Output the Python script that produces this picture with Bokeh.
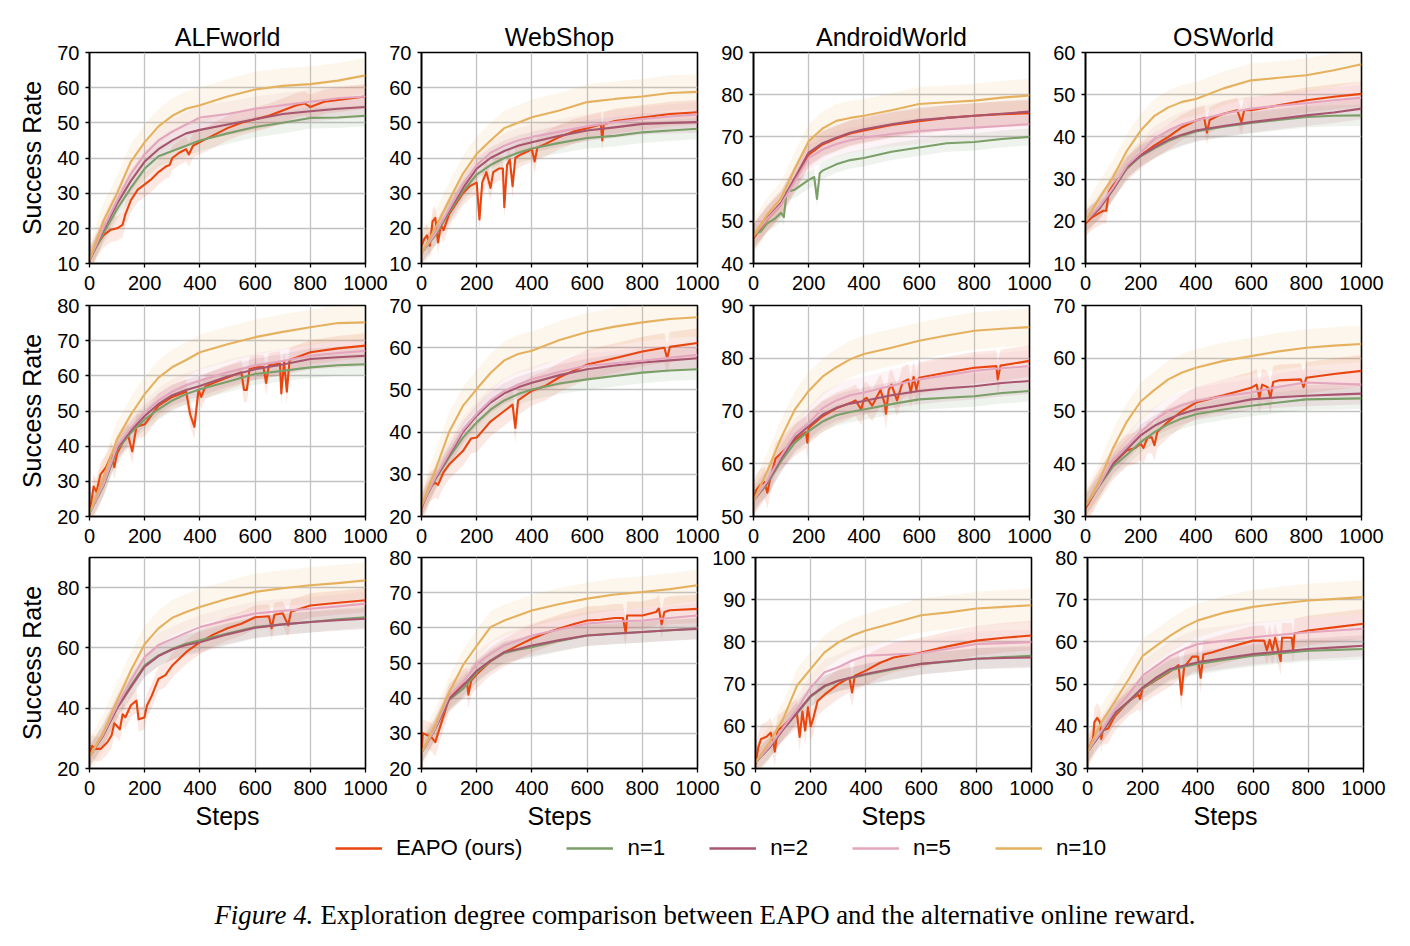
from bokeh.plotting import figure
from bokeh.layouts import column, row
from bokeh.models import Range1d, FixedTicker, Legend, LegendItem, Label
from bokeh.embed import file_html
from bokeh.resources import INLINE

# ---------------------------------------------------------------- labels
ENVS = ["ALFworld", "WebShop", "AndroidWorld", "OSWorld"]
SERIES = ["EAPO (ours)", "n=1", "n=2", "n=5", "n=10"]
COLORS = ["#E8450F", "#7B9F68", "#A8566F", "#E3A6BE", "#E5B15F"]
X_TICKS = [0, 200, 400, 600, 800, 1000]

# common step grid for the baseline curves
STEPS = [0, 50, 100, 150, 200, 250, 300, 350, 400, 500, 600, 700, 800, 900, 1000]

# ---------------------------------------------------------------- row 1
ALF_R1_EAPO_X = [0, 25, 50, 75, 100, 120, 130, 150, 175, 200, 225, 250, 275, 290, 300, 325, 350, 360, 375, 400,
                 450, 500, 550, 600, 650, 700, 750, 780, 800, 850, 900, 950, 1000]
ALF_R1_EAPO = [11, 15, 18, 19.5, 20, 21, 24, 28, 31, 32.5, 34, 36, 37.5, 38, 40, 41.5, 42.5, 41, 43.5, 44.5,
               46.5, 48.5, 50, 51, 52, 53.5, 55, 55.5, 54.5, 56, 56.5, 57, 57.5]
ALF_R1_N1 = [11, 18.5, 25.5, 31.5, 37, 40.5, 42, 43.5, 45, 47, 48.8, 50, 51.4, 51.5, 52]
ALF_R1_N2 = [11, 19.5, 27, 33.5, 39, 42.5, 45, 47, 48, 49.5, 51, 52.5, 53.3, 54, 54.5]
ALF_R1_N5 = [11, 20, 28, 35.5, 41, 45, 47.5, 49.5, 51.5, 52.5, 54, 55, 56, 57, 57.5]
ALF_R1_N10 = [11, 22, 30, 39, 44.5, 49, 52, 54, 55, 57.5, 59.5, 60.5, 61, 62, 63.5]
ALF_R1_BAND = [3.5, 3.0, 3.0, 3.5, 5.0]

WS_R1_EAPO_X = [0, 10, 20, 30, 40, 50, 60, 70, 80, 100, 125, 150, 175, 200, 210, 220, 235, 250, 260, 280,
                295, 300, 310, 320, 330, 340, 360, 400, 410, 420, 450, 500, 550, 600, 650, 655, 660, 700, 800,
                900, 1000]
WS_R1_EAPO = [15, 17, 18, 15, 22, 23, 16, 21, 19.5, 24, 27, 30, 32, 33, 22.5, 33, 36, 31.5, 36, 37,
              37, 26, 38, 39.5, 32, 40, 41, 42.5, 39, 43, 44, 46, 47.5, 48.5, 49.5, 45, 49.5, 50.5, 51.5,
              52.5, 53]
WS_R1_N1 = [13, 18, 24.5, 30.5, 35.3, 38, 40, 41.5, 42.7, 44.3, 45.7, 46.3, 47.3, 47.8, 48.3]
WS_R1_N2 = [13, 18.5, 25, 31.5, 37, 40, 42, 43.5, 44.5, 46.3, 47.8, 48.7, 49.7, 50, 50.2]
WS_R1_N5 = [13, 18.5, 25.5, 32.5, 38, 41.5, 43.5, 45, 46, 47.5, 49, 50.2, 51.1, 51.8, 52.4]
WS_R1_N10 = [13, 20, 28, 35.5, 41.2, 45, 48.5, 50, 51.6, 53.5, 55.9, 56.8, 57.5, 58.5, 58.8]
WS_R1_BAND = [3.5, 3.0, 3.0, 3.5, 5.0]

AW_R1_EAPO_X = STEPS
AW_R1_EAPO = [46, 50.5, 54, 60, 65.8, 68.2, 69.6, 70.8, 71.5, 72.8, 73.7, 74.5, 75, 75.4, 75.6]
AW_R1_N1_X = [0, 25, 50, 75, 100, 110, 120, 150, 200, 220, 230, 240, 250, 300, 350, 400, 500, 600, 700, 800,
              900, 1000]
AW_R1_N1 = [47, 47.5, 49.5, 50.5, 52, 51, 57, 57.5, 59.8, 60.5, 55.3, 61.4, 62, 63.5, 64.5, 65, 66.5, 67.5,
            68.5, 68.8, 69.5, 70]
AW_R1_N2 = [46.5, 50.8, 54.4, 60.3, 66.3, 68.5, 69.8, 71, 71.8, 73, 74, 74.5, 75, 75.5, 76]
AW_R1_N5 = [46.5, 50.6, 54, 59.5, 65, 67, 68.3, 69.2, 69.8, 70.7, 71.4, 71.8, 72.2, 72.6, 73]
AW_R1_N10 = [46.5, 51.6, 55.5, 62.5, 69, 72, 73.8, 74.5, 75, 76.3, 77.8, 78.2, 78.6, 79.3, 79.8]
AW_R1_BAND = [3.0, 2.0, 3.0, 3.0, 4.0]

OS_R1_EAPO_X = [0, 25, 50, 65, 75, 85, 100, 150, 200, 250, 300, 350, 400, 430, 440, 450, 480, 500, 550, 565,
                575, 600, 700, 800, 900, 1000]
OS_R1_EAPO = [19.5, 21, 22, 22.5, 22.5, 27, 28.5, 32.5, 35.6, 38, 40, 42.3, 43.9, 44.5, 41, 44, 45, 45.5, 46.3,
              43.5, 46.3, 46.3, 47.5, 48.7, 49.5, 50.2]
OS_R1_N1 = [20, 23, 27.5, 32.5, 35.4, 37.3, 39, 40.3, 41.3, 42.4, 43.3, 44, 44.7, 45, 45.1]
OS_R1_N2 = [20, 23, 27.6, 32.8, 35.6, 37.5, 39.3, 40.5, 41.5, 42.6, 43.5, 44.3, 45.1, 45.8, 46.7]
OS_R1_N5 = [20, 23.5, 28, 33.2, 36.3, 39.5, 41.5, 43, 43.9, 45.5, 46.7, 47.4, 48, 48.7, 49.3]
OS_R1_N10 = [20, 25.5, 30.5, 36.7, 41.5, 45, 47, 48.3, 49, 51.5, 53.4, 54, 54.6, 55.8, 57.2]
OS_R1_BAND = [3.0, 2.5, 2.5, 3.0, 4.0]

# ---------------------------------------------------------------- row 2
ALF_R2_EAPO_X = [0, 15, 25, 40, 60, 80, 90, 100, 120, 140, 155, 170, 200, 250, 300, 350, 365, 380, 395, 405,
                 420, 450, 500, 550, 560, 570, 580, 600, 630, 640, 650, 690, 695, 705, 715, 725, 800, 900, 1000]
ALF_R2_EAPO = [21, 28.5, 27, 32, 34, 37.5, 34, 38, 41, 43, 38.5, 45.5, 46.2, 51.5, 54, 55.5, 49, 45.5, 56, 54,
               57, 58, 59.5, 61, 56, 56, 62, 62.4, 62.5, 58, 63, 63.5, 55, 64, 55.5, 64.5, 66.7, 67.8, 68.6]
ALF_R2_N1 = [21, 28.5, 39, 43.8, 47.6, 50.5, 53, 54.8, 56.2, 58.3, 60.5, 61.4, 62.4, 63, 63.3]
ALF_R2_N2 = [21, 29, 39.5, 44.5, 48.6, 52, 54.5, 56, 57.1, 59.8, 61.9, 63.2, 64.8, 65.3, 65.7]
ALF_R2_N5 = [21, 29, 40, 45.2, 49.5, 53, 55.5, 57.3, 58.6, 61, 62.9, 64.2, 65.7, 66.5, 67.1]
ALF_R2_N10 = [21, 31, 42, 49, 54.8, 59.5, 62.5, 64.5, 66.7, 69, 71, 72.5, 73.8, 75, 75.2]
ALF_R2_BAND = [3.5, 3.0, 3.0, 3.5, 5.0]

WS_R2_EAPO_X = [0, 30, 50, 60, 80, 100, 150, 180, 200, 250, 300, 330, 340, 350, 400, 450, 500, 550, 600, 700,
                800, 880, 890, 900, 1000]
WS_R2_EAPO = [22, 27, 28, 27.5, 30.5, 32.3, 35.5, 38.5, 38.7, 42.5, 45, 46.5, 41, 47.5, 49.8, 51, 53, 54.5, 56,
              57.5, 59.1, 60, 57.5, 60.2, 61.1]
WS_R2_N1 = [22.5, 28.8, 34, 38.7, 42.3, 45.3, 47.5, 49, 50.1, 51.5, 52.5, 53.3, 54.1, 54.6, 54.9]
WS_R2_N2 = [22.5, 29, 34.5, 40, 43.9, 47, 49.2, 50.6, 51.7, 53.5, 54.9, 55.8, 56.5, 57, 57.5]
WS_R2_N5 = [22.5, 29.3, 35, 40.5, 44.3, 47.5, 49.7, 51.3, 52.5, 54.3, 55.7, 56.3, 56.9, 57.6, 58.3]
WS_R2_N10 = [22.5, 31, 40, 46.2, 50.2, 54, 57, 58.5, 59.3, 61.8, 63.7, 65, 66, 66.8, 67.2]
WS_R2_BAND = [3.5, 2.5, 2.5, 3.0, 4.5]

AW_R2_EAPO_X = [0, 10, 25, 40, 50, 60, 80, 100, 150, 190, 195, 200, 250, 300, 350, 370, 390, 400, 410, 430,
                450, 460, 475, 480, 490, 500, 520, 540, 560, 570, 580, 590, 600, 700, 800, 880, 885, 895, 1000]
AW_R2_EAPO = [53, 55, 56, 56.5, 54.5, 57, 61, 62, 64.5, 66, 64, 66.8, 69, 70.5, 71.5, 72, 70.3, 72.2, 72.5, 71,
              73, 74, 71.5, 69.5, 74, 75, 72, 75.4, 76, 73.5, 76.5, 74, 76.3, 77.3, 78.2, 78.5, 76, 78.6, 79.5]
AW_R2_N1 = [53, 56.2, 60.5, 64, 66.2, 68, 69.2, 69.8, 70.3, 71.3, 72.2, 72.5, 72.8, 73.4, 73.8]
AW_R2_N2 = [53, 56.5, 61, 64.9, 67.1, 69.3, 70.6, 71.4, 71.9, 73, 73.8, 74.3, 74.7, 75.3, 75.7]
AW_R2_N5 = [53, 56.8, 61.5, 65.6, 67.7, 70.5, 72, 73, 73.5, 74.8, 76, 76.8, 77.6, 78.1, 78.5]
AW_R2_N10 = [53, 58.6, 64.9, 70.3, 73.8, 76.5, 78.3, 79.8, 80.8, 82, 83.3, 84.3, 85.2, 85.6, 85.9]
AW_R2_BAND = [3.0, 2.0, 2.5, 3.0, 3.5]

OS_R2_EAPO_X = [0, 50, 100, 150, 180, 200, 210, 225, 240, 250, 260, 300, 350, 400, 450, 500, 600, 620, 630, 640,
                660, 670, 680, 700, 780, 790, 800, 900, 1000]
OS_R2_EAPO = [31.5, 36, 40, 42.5, 43, 43.8, 43, 45, 45, 43.5, 46, 48, 50, 51.6, 52.3, 53, 54.4, 55, 52.5, 55,
              54.5, 52.5, 55.5, 55.8, 56, 54.5, 56.3, 57, 57.6]
OS_R2_N1 = [32, 35.8, 39.5, 41.7, 44.1, 46, 47.5, 48.6, 49.4, 50.3, 51, 51.6, 52.2, 52.3, 52.4]
OS_R2_N2 = [32, 36, 40, 42.7, 45.4, 47.2, 48.5, 49.5, 50.3, 51.2, 52.2, 52.6, 52.9, 53.1, 53.3]
OS_R2_N5 = [32, 36, 40.8, 43.3, 46.1, 48.3, 50, 51.1, 51.9, 52.8, 53.5, 54.6, 55.4, 55.2, 55]
OS_R2_N10 = [32, 36.7, 43, 48, 51.8, 54, 56, 57.3, 58.2, 59.5, 60.4, 61.3, 62, 62.4, 62.7]
OS_R2_BAND = [3.0, 2.0, 2.0, 2.5, 3.5]

# ---------------------------------------------------------------- row 3
ALF_R3_EAPO_X = [0, 10, 20, 40, 64, 80, 90, 110, 120, 130, 150, 170, 178, 199, 208, 225, 250, 275, 300, 350,
                 400, 450, 500, 550, 600, 650, 660, 670, 700, 720, 730, 800, 900, 1000]
ALF_R3_EAPO = [25, 27.5, 26.5, 26.5, 28.6, 31, 35, 33, 38, 37, 41, 42.5, 36.3, 36.9, 40.8, 44, 49.7, 51, 54.2,
               58.6, 61.9, 64.5, 66.5, 68, 70.2, 70.5, 66.5, 71, 71.5, 67.5, 72, 74.1, 75, 75.8]
ALF_R3_N1 = [24, 31.2, 40.3, 47.5, 54.2, 57.5, 59.7, 61.4, 62.5, 64.8, 66.9, 67.8, 68.6, 69.5, 70.2]
ALF_R3_N2 = [24, 31, 40, 47, 53.8, 57.3, 59.5, 61, 61.9, 64.5, 66.7, 67.8, 68.6, 69.2, 69.7]
ALF_R3_N5 = [24, 31.4, 40.9, 49.2, 57, 61, 63, 65, 66.9, 69.3, 71.4, 72.3, 73, 73.8, 74.7]
ALF_R3_N10 = [24, 32, 42.5, 52.5, 61.3, 66.5, 70, 71.9, 73.6, 76.3, 78.6, 79.8, 80.8, 81.5, 82.4]
ALF_R3_BAND = [4.0, 3.5, 3.5, 4.0, 6.0]

WS_R3_EAPO_X = [0, 5, 20, 35, 50, 60, 80, 100, 125, 150, 165, 170, 180, 200, 250, 300, 350, 400, 450, 500,
                550, 600, 650, 700, 730, 740, 745, 800, 850, 860, 870, 880, 900, 1000]
WS_R3_EAPO = [25, 30, 29.5, 29, 27.5, 30, 35, 40, 42, 44, 44.5, 41, 45, 46.8, 50.5, 53, 55, 56.9, 58.5, 59.8,
              61, 62.1, 62.3, 62.8, 62.8, 58.5, 63.5, 63.5, 64.5, 65.5, 61, 64.5, 65, 65.4]
WS_R3_N1 = [24.5, 31.3, 39.5, 42.6, 47.3, 50.5, 52.8, 53.8, 54.5, 56.3, 57.8, 58.4, 58.8, 59.3, 59.8]
WS_R3_N2 = [24.5, 31.5, 39.7, 43.5, 47.8, 50.7, 53.1, 54, 55, 56.5, 57.8, 58.3, 58.8, 59.3, 59.7]
WS_R3_N5 = [24.5, 31.6, 40.7, 44.5, 49.7, 52.6, 55, 56.4, 57.8, 59.5, 61.2, 61.8, 62.1, 62.8, 63.5]
WS_R3_N10 = [24.5, 32.6, 41.6, 49.3, 54.9, 60.2, 62.1, 63.5, 64.9, 66.8, 68.3, 69.5, 70.2, 71, 72.1]
WS_R3_BAND = [4.0, 3.0, 3.0, 3.5, 4.5]

AW_R3_EAPO_X = [0, 10, 20, 40, 55, 65, 70, 80, 100, 130, 150, 160, 170, 180, 190, 200, 210, 225, 250, 300,
                340, 350, 360, 400, 450, 500, 600, 700, 800, 900, 1000]
AW_R3_EAPO = [51, 55, 57, 57.5, 58.5, 56, 54, 59, 60, 62, 63, 57.5, 63.5, 59, 64.5, 60, 62, 66, 67.5, 70,
              71.5, 68, 72, 73.2, 75, 76.3, 77.5, 79, 80.3, 81, 81.5]
AW_R3_N1 = [51.5, 54.9, 59.3, 63, 67, 69.4, 70.8, 71.5, 72.2, 73.5, 74.8, 75.3, 76, 76.4, 76.7]
AW_R3_N2 = [51.5, 54.9, 59.3, 63.2, 67.2, 69.6, 70.8, 71.6, 72.4, 73.7, 74.8, 75.4, 76, 76.2, 76.3]
AW_R3_N5 = [51.5, 55.2, 59.7, 64, 69.2, 72.8, 74, 75.6, 76.7, 77, 77.3, 78.4, 79.5, 79.7, 79.9]
AW_R3_N10 = [51.5, 56.1, 61.7, 69.6, 73.6, 77.5, 79.9, 81.5, 82.7, 84.5, 86.3, 87, 87.9, 88.3, 88.7]
AW_R3_BAND = [3.5, 2.5, 2.5, 3.0, 4.0]

OS_R3_EAPO_X = [0, 20, 25, 35, 45, 50, 55, 75, 100, 150, 185, 190, 200, 250, 300, 330, 340, 350, 380, 400,
                410, 420, 450, 500, 600, 640, 650, 660, 670, 680, 700, 705, 740, 745, 750, 800, 900, 1000]
OS_R3_EAPO = [34, 37, 41, 42, 41, 37, 39, 39.5, 42.5, 46, 47.5, 46.5, 49, 51, 53, 54.5, 47.5, 54, 56.5, 56.5,
              51.5, 57, 57.5, 58.5, 60.3, 60.3, 58, 60.5, 58, 61, 55.5, 61, 61, 58, 62, 62.7, 63.5, 64.3]
OS_R3_N1 = [34, 38.3, 43, 45.8, 49, 51.2, 53.2, 54.1, 54.8, 55.8, 56.7, 57.3, 57.9, 58.1, 58.3]
OS_R3_N2 = [34, 38.5, 43.2, 46, 49.2, 51.6, 53.6, 54.4, 55.2, 56.2, 57.1, 57.7, 58.3, 58.7, 59.1]
OS_R3_N5 = [34, 38.9, 44, 47.6, 52, 54.4, 56.7, 58.3, 59.5, 60.3, 61.1, 61.7, 62.3, 62.7, 63.1]
OS_R3_N10 = [34, 40.9, 46, 51.2, 56.7, 59.1, 61.5, 63.5, 65.1, 67, 68.3, 69.1, 69.8, 70.2, 70.6]
OS_R3_BAND = [3.5, 2.5, 2.5, 3.5, 4.0]

# y-axis limits and ticks per row / environment
Y_LIMITS = [
    [(10, 70), (10, 70), (40, 90), (10, 60)],
    [(20, 80), (20, 70), (50, 90), (30, 70)],
    [(20, 90), (20, 80), (50, 100), (30, 80)],
]
Y_TICK_STEP = [
    [10, 10, 10, 10],
    [10, 10, 10, 10],
    [20, 10, 10, 10],
]


def curves(eapo_x, eapo, n1, n2, n5, n10, n1_x=STEPS):
    return [(eapo_x, eapo), (n1_x, n1), (STEPS, n2), (STEPS, n5), (STEPS, n10)]


PANELS = [
    [
        (curves(ALF_R1_EAPO_X, ALF_R1_EAPO, ALF_R1_N1, ALF_R1_N2, ALF_R1_N5, ALF_R1_N10), ALF_R1_BAND),
        (curves(WS_R1_EAPO_X, WS_R1_EAPO, WS_R1_N1, WS_R1_N2, WS_R1_N5, WS_R1_N10), WS_R1_BAND),
        (curves(AW_R1_EAPO_X, AW_R1_EAPO, AW_R1_N1, AW_R1_N2, AW_R1_N5, AW_R1_N10, n1_x=AW_R1_N1_X), AW_R1_BAND),
        (curves(OS_R1_EAPO_X, OS_R1_EAPO, OS_R1_N1, OS_R1_N2, OS_R1_N5, OS_R1_N10), OS_R1_BAND),
    ],
    [
        (curves(ALF_R2_EAPO_X, ALF_R2_EAPO, ALF_R2_N1, ALF_R2_N2, ALF_R2_N5, ALF_R2_N10), ALF_R2_BAND),
        (curves(WS_R2_EAPO_X, WS_R2_EAPO, WS_R2_N1, WS_R2_N2, WS_R2_N5, WS_R2_N10), WS_R2_BAND),
        (curves(AW_R2_EAPO_X, AW_R2_EAPO, AW_R2_N1, AW_R2_N2, AW_R2_N5, AW_R2_N10), AW_R2_BAND),
        (curves(OS_R2_EAPO_X, OS_R2_EAPO, OS_R2_N1, OS_R2_N2, OS_R2_N5, OS_R2_N10), OS_R2_BAND),
    ],
    [
        (curves(ALF_R3_EAPO_X, ALF_R3_EAPO, ALF_R3_N1, ALF_R3_N2, ALF_R3_N5, ALF_R3_N10), ALF_R3_BAND),
        (curves(WS_R3_EAPO_X, WS_R3_EAPO, WS_R3_N1, WS_R3_N2, WS_R3_N5, WS_R3_N10), WS_R3_BAND),
        (curves(AW_R3_EAPO_X, AW_R3_EAPO, AW_R3_N1, AW_R3_N2, AW_R3_N5, AW_R3_N10), AW_R3_BAND),
        (curves(OS_R3_EAPO_X, OS_R3_EAPO, OS_R3_N1, OS_R3_N2, OS_R3_N5, OS_R3_N10), OS_R3_BAND),
    ],
]

FONT = "Liberation Sans"
FRAME_W, FRAME_H = 276, 211
BORDER_LEFT = [89, 33, 44, 33]
BORDER_RIGHT = [23, 23, 23, 26]
BORDER_TOP = [52, 12, 12]
BORDER_BOTTOM = [35, 34, 68]
# negative offsets let neighbouring panels share gutter space
SHIFT_LEFT = [0, -2, -11, -2]
SHIFT_TOP = [0, -5, -5]


def make_panel(r, c):
    series, band = PANELS[r][c]
    lo, hi = Y_LIMITS[r][c]
    p = figure(
        frame_width=FRAME_W, frame_height=FRAME_H,
        x_range=Range1d(0, 1000), y_range=Range1d(lo, hi),
        output_backend="svg", toolbar_location=None,
        min_border_left=BORDER_LEFT[c], min_border_right=BORDER_RIGHT[c],
        min_border_top=BORDER_TOP[r], min_border_bottom=BORDER_BOTTOM[r],
        title=ENVS[c] if r == 0 else None,
    )
    p.margin = (SHIFT_TOP[r], 0, 0, SHIFT_LEFT[c])
    p.border_fill_color = None
    p.background_fill_color = "white"
    p.outline_line_color = "black"
    p.outline_line_width = 1.6
    p.outline_line_alpha = 1.0

    if r == 0:
        p.title.text_font = FONT
        p.title.text_font_size = "25px"
        p.title.text_font_style = "normal"
        p.title.text_color = "black"
        p.title.align = "center"
        p.title.standoff = 4

    # shaded spread first, then the mean curves (EAPO underneath)
    for k, (xs, ys) in enumerate(series):
        assert len(xs) == len(ys)
        p.varea(x=xs, y1=[v - band[k] for v in ys], y2=[v + band[k] for v in ys],
                fill_color=COLORS[k], fill_alpha=0.12)
    for k, (xs, ys) in enumerate(series):
        p.line(x=xs, y=ys, line_color=COLORS[k], line_width=2.1, line_join="round")

    p.xaxis.ticker = FixedTicker(ticks=X_TICKS)
    p.yaxis.ticker = FixedTicker(ticks=list(range(lo, hi + 1, Y_TICK_STEP[r][c])))
    for ax in p.axis:
        ax.major_label_text_font = FONT
        ax.major_label_text_font_size = "20px"
        ax.major_label_text_color = "black"
        ax.major_tick_out = 4
        ax.major_tick_in = 0
        ax.minor_tick_out = 0
        ax.minor_tick_in = 0
        ax.major_tick_line_color = "black"
        ax.major_tick_line_width = 1.3
        ax.axis_line_color = "black"
        ax.axis_line_width = 1.6
        ax.axis_label_text_font = FONT
        ax.axis_label_text_font_size = "25px"
        ax.axis_label_text_font_style = "normal"
        ax.axis_label_text_color = "black"
    p.xaxis.major_label_standoff = 8
    p.yaxis.major_label_standoff = 6
    p.grid.grid_line_color = "#c2c2c2"
    p.grid.grid_line_width = 1.3

    if r == 2:
        p.xaxis.axis_label = "Steps"
        p.xaxis.axis_label_standoff = 4
    if c == 0:
        p.yaxis.axis_label = "Success Rate"
        p.yaxis.axis_label_standoff = 8
    return p


rows = [row(*[make_panel(r, c) for c in range(4)]) for r in range(3)]

# legend and caption strip
NAN = float("nan")
foot = figure(width=1410, height=110, x_range=Range1d(0, 1), y_range=Range1d(0, 1),
              x_axis_type=None, y_axis_type=None, output_backend="svg", toolbar_location=None,
              min_border_left=0, min_border_right=0, min_border_top=0, min_border_bottom=0)
foot.outline_line_color = None
foot.border_fill_color = "white"
foot.background_fill_color = "white"
items = []
for k, name in enumerate(SERIES):
    rend = foot.line(x=[NAN, NAN], y=[NAN, NAN], line_color=COLORS[k], line_width=2.5)
    items.append(LegendItem(label=name, renderers=[rend]))
legend = Legend(items=items, orientation="horizontal", location=(335, 85),
                glyph_width=47, glyph_height=20, label_standoff=14, spacing=44,
                padding=0, margin=0, border_line_color=None, background_fill_alpha=0,
                label_text_font=FONT, label_text_font_size="22.3px", label_text_color="black")
foot.add_layout(legend)

foot.add_layout(Label(x=214, y=32, x_units="screen", y_units="screen", text="Figure 4.",
                      text_font="Liberation Serif", text_font_style="italic", text_font_size="26.8px",
                      text_baseline="alphabetic", text_align="left", text_color="black"))
foot.add_layout(Label(x=320, y=32, x_units="screen", y_units="screen",
                      text="Exploration degree comparison between EAPO and the alternative online reward.",
                      text_font="Liberation Serif", text_font_size="26.8px",
                      text_baseline="alphabetic", text_align="left", text_color="black"))

page = column(*rows, foot)
open("out.html", "w").write(file_html(page, INLINE))
